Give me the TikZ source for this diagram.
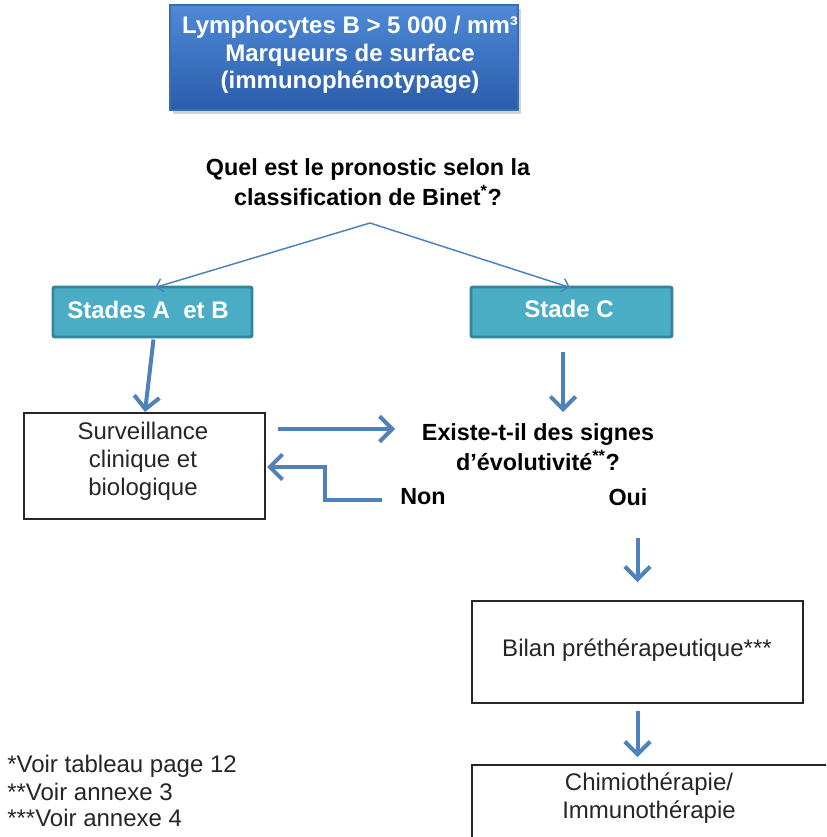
\documentclass[tikz,border=0pt]{standalone}
\usepackage{fontspec}
\setmainfont{Liberation Sans}
\usetikzlibrary{arrows.meta,shadows,calc}
\definecolor{arrowblue}{HTML}{4F81BD}
\definecolor{stagefill}{HTML}{4BACC6}
\definecolor{stageborder}{HTML}{31859C}
\definecolor{topblue}{HTML}{4F8AD6}
\definecolor{botblue}{HTML}{2A5CAA}
\definecolor{topborder}{HTML}{3A6DB8}
\begin{document}
\begin{tikzpicture}[x=0.75pt,y=-0.75pt,
  regular/.style={font=\fontsize{18}{21}\selectfont, text=black!85, align=center, inner sep=0pt},
  boldtxt/.style={font=\bfseries\fontsize{17.5}{22}\selectfont, align=center, inner sep=0pt},
  bigarrow/.style={draw=arrowblue, line width=3pt, -{Straight Barb[length=9.5pt,width=19pt]}},
  thinarrow/.style={draw=arrowblue, line width=1.1pt, -{Straight Barb[length=5pt,width=10pt]}},
  whitebox/.style={draw=black!85, line width=1.3pt, fill=white, inner sep=0pt},
  stagebox/.style={draw=stageborder, line width=2.2pt, fill=stagefill, rounded corners=1.5pt, inner sep=0pt},
  stagetxt/.style={text=white, font=\bfseries\fontsize{18}{21}\selectfont, inner sep=0pt},
  topbox/.style={draw=topborder, line width=1pt, top color=topblue, bottom color=botblue,
    drop shadow={shadow xshift=2pt, shadow yshift=-3pt, opacity=0.35}, inner sep=0pt},
  toptxt/.style={text=white, font=\bfseries\fontsize{18}{20.5}\selectfont, align=center, inner sep=0pt}
]
\useasboundingbox (0,0) rectangle (826,837);
\fill[white] (0,0) rectangle (826,837);
\begin{scope}
\clip (0,0) rectangle (826,837);

% top box
\node[topbox, minimum width=261pt, minimum height=78.75pt] (top) at (344,57.5) {};
\node[toptxt] (toptext) at (350,55) {Lymphocytes B > 5 000 / mm³\\Marqueurs de surface\\(immunophénotypage)};

% question
\node[boldtxt] (q) at (368,182) {Quel est le pronostic selon la\\classification de Binet\textsuperscript{*}?};
\coordinate (apex) at (370,223);

% stage boxes
\node[stagebox, minimum width=149.25pt, minimum height=37.5pt] (stAB) at (152.5,312) {};
\node[stagetxt] (stABt) at (148,310) {Stades A\ \ et B};
\node[stagebox, minimum width=150.75pt, minimum height=37.5pt] (stC) at (571.5,312) {};
\node[stagetxt] (stCt) at (569,309) {Stade C};

\draw[thinarrow] (apex) -- (155,287.5);
\draw[thinarrow] (apex) -- (570,287.5);

% surveillance
\node[whitebox, minimum width=180.75pt, minimum height=79.5pt] (surv) at (144.5,466) {};
\node[regular] (survt) at (143,461) {Surveillance\\clinique et\\biologique};

\draw[bigarrow] ($(stAB.south)+(1,1)$) -- (145,412);

% existe
\node[boldtxt] (ex) at (538,447) {Existe-t-il des signes\\d’évolutivité\textsuperscript{**}?};
\coordinate (exin) at (395,429);
\draw[bigarrow] (278,429) -- (exin);
\coordinate (cdown) at (563,412);
\draw[bigarrow] (563,352) -- (cdown);

\node[boldtxt, anchor=west] (non) at (400,497) {Non};
\node[boldtxt] (oui) at (628,497) {Oui};
\coordinate (survin) at (267,467);
\draw[bigarrow] ($(non.west)+(-18,3)$) -- (325,500) |- (survin);

% bilan
\node[whitebox, minimum width=248.25pt, minimum height=76.5pt] (bilan) at (637.5,652) {};
\node[regular] (bilant) at (637,650) {Bilan préthérapeutique***};
\draw[bigarrow] (637.5,538) -- ($(bilan.north)+(0,-18)$);

% chimio
\node[whitebox, minimum width=267.75pt, minimum height=78.75pt] (chimio) at (650.5,817.5) {};
\node[regular] (chimiot) at (649,798) {Chimiothérapie/\\Immunothérapie};
\draw[bigarrow] ($(bilan.south)+(0,7)$) -- ($(chimio.north)+(-13,-7)$);

% footnotes
\node[regular, anchor=west] (fn1) at (7,766) {*Voir tableau page 12};
\node[regular, anchor=west] (fn2) at (7,792) {**Voir annexe 3};
\node[regular, anchor=west] (fn3) at (7,818) {***Voir annexe 4};
\end{scope}
\end{tikzpicture}
\end{document}
